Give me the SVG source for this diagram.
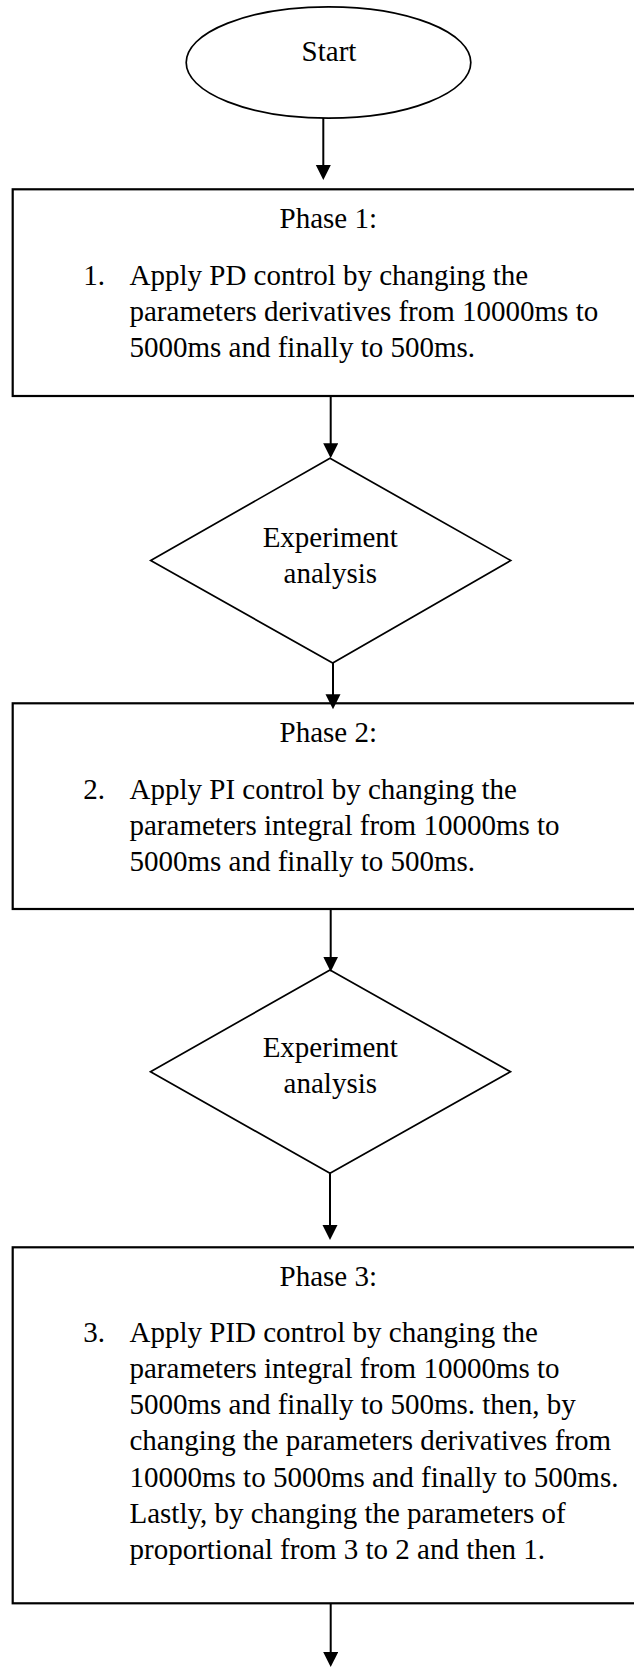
<svg xmlns="http://www.w3.org/2000/svg" width="634" height="1668" viewBox="0 0 634 1668">
<defs>
<style>
.t{font-family:"Liberation Serif","Times New Roman",serif;font-size:29px;fill:#000}
.c{text-anchor:middle}
.box{fill:#fff;stroke:#000;stroke-width:2.2}
.shape{fill:#fff;stroke:#000;stroke-width:1.7}
.conn{fill:none;stroke:#000;stroke-width:2}
</style>
<marker id="ah" markerUnits="userSpaceOnUse" markerWidth="16" markerHeight="16" refX="12" refY="7.5" orient="auto">
<path d="M0,0 L15,7.5 L0,15 z" fill="#000"/>
</marker>
</defs>
<rect width="634" height="1668" fill="#fff"/>

<g id="start">
<ellipse class="shape" cx="328.5" cy="62.5" rx="142.3" ry="55.7"/>
<text class="t c" x="329" y="61">Start</text>
</g>

<g id="phase1">
<rect class="box" x="12.7" y="189.3" width="640" height="206.7"/>
<text class="t c" x="328.3" y="228">Phase 1:</text>
<text class="t" x="83.3" y="285">1.</text>
<text class="t" x="129.5" y="285">Apply PD control by changing the</text>
<text class="t" x="129.5" y="321">parameters derivatives from 10000ms to</text>
<text class="t" x="129.5" y="357">5000ms and finally to 500ms.</text>
</g>

<g id="analysis1">
<polygon class="shape" points="330,458.3 510.7,560.5 332.7,663 150.7,560.5"/>
<text class="t c" x="330.3" y="547.3">Experiment</text>
<text class="t c" x="330.3" y="582.7">analysis</text>
</g>

<g id="phase2">
<rect class="box" x="12.7" y="703.3" width="640" height="205.7"/>
<text class="t c" x="328.3" y="741.7">Phase 2:</text>
<text class="t" x="83.3" y="798.5">2.</text>
<text class="t" x="129.5" y="798.5">Apply PI control by changing the</text>
<text class="t" x="129.5" y="835">parameters integral from 10000ms to</text>
<text class="t" x="129.5" y="871">5000ms and finally to 500ms.</text>
</g>

<g id="analysis2">
<polygon class="shape" points="330,970 510.5,1071.7 330,1173.3 150.5,1071.7"/>
<text class="t c" x="330.3" y="1056.7">Experiment</text>
<text class="t c" x="330.3" y="1092.7">analysis</text>
</g>

<g id="phase3">
<rect class="box" x="12.7" y="1247.3" width="640" height="356"/>
<text class="t c" x="328.3" y="1285.5">Phase 3:</text>
<text class="t" x="83.3" y="1342">3.</text>
<text class="t" x="129.5" y="1342">Apply PID control by changing the</text>
<text class="t" x="129.5" y="1378">parameters integral from 10000ms to</text>
<text class="t" x="129.5" y="1414">5000ms and finally to 500ms. then, by</text>
<text class="t" x="129.5" y="1450.3">changing the parameters derivatives from</text>
<text class="t" x="129.5" y="1486.7">10000ms to 5000ms and finally to 500ms.</text>
<text class="t" x="129.5" y="1523">Lastly, by changing the parameters of</text>
<text class="t" x="129.5" y="1559">proportional from 3 to 2 and then 1.</text>
</g>

<g id="connectors">
<path class="conn" d="M323.3,118 L323.3,177" marker-end="url(#ah)"/>
<path class="conn" d="M330.7,396 L330.7,455.3" marker-end="url(#ah)"/>
<path class="conn" d="M333,663 L333,706.3" marker-end="url(#ah)"/>
<path class="conn" d="M330.7,909 L330.7,968.7" marker-end="url(#ah)"/>
<path class="conn" d="M330,1173.3 L330,1237" marker-end="url(#ah)"/>
<path class="conn" d="M330.7,1603.3 L330.7,1664" marker-end="url(#ah)"/>
</g>
</svg>
